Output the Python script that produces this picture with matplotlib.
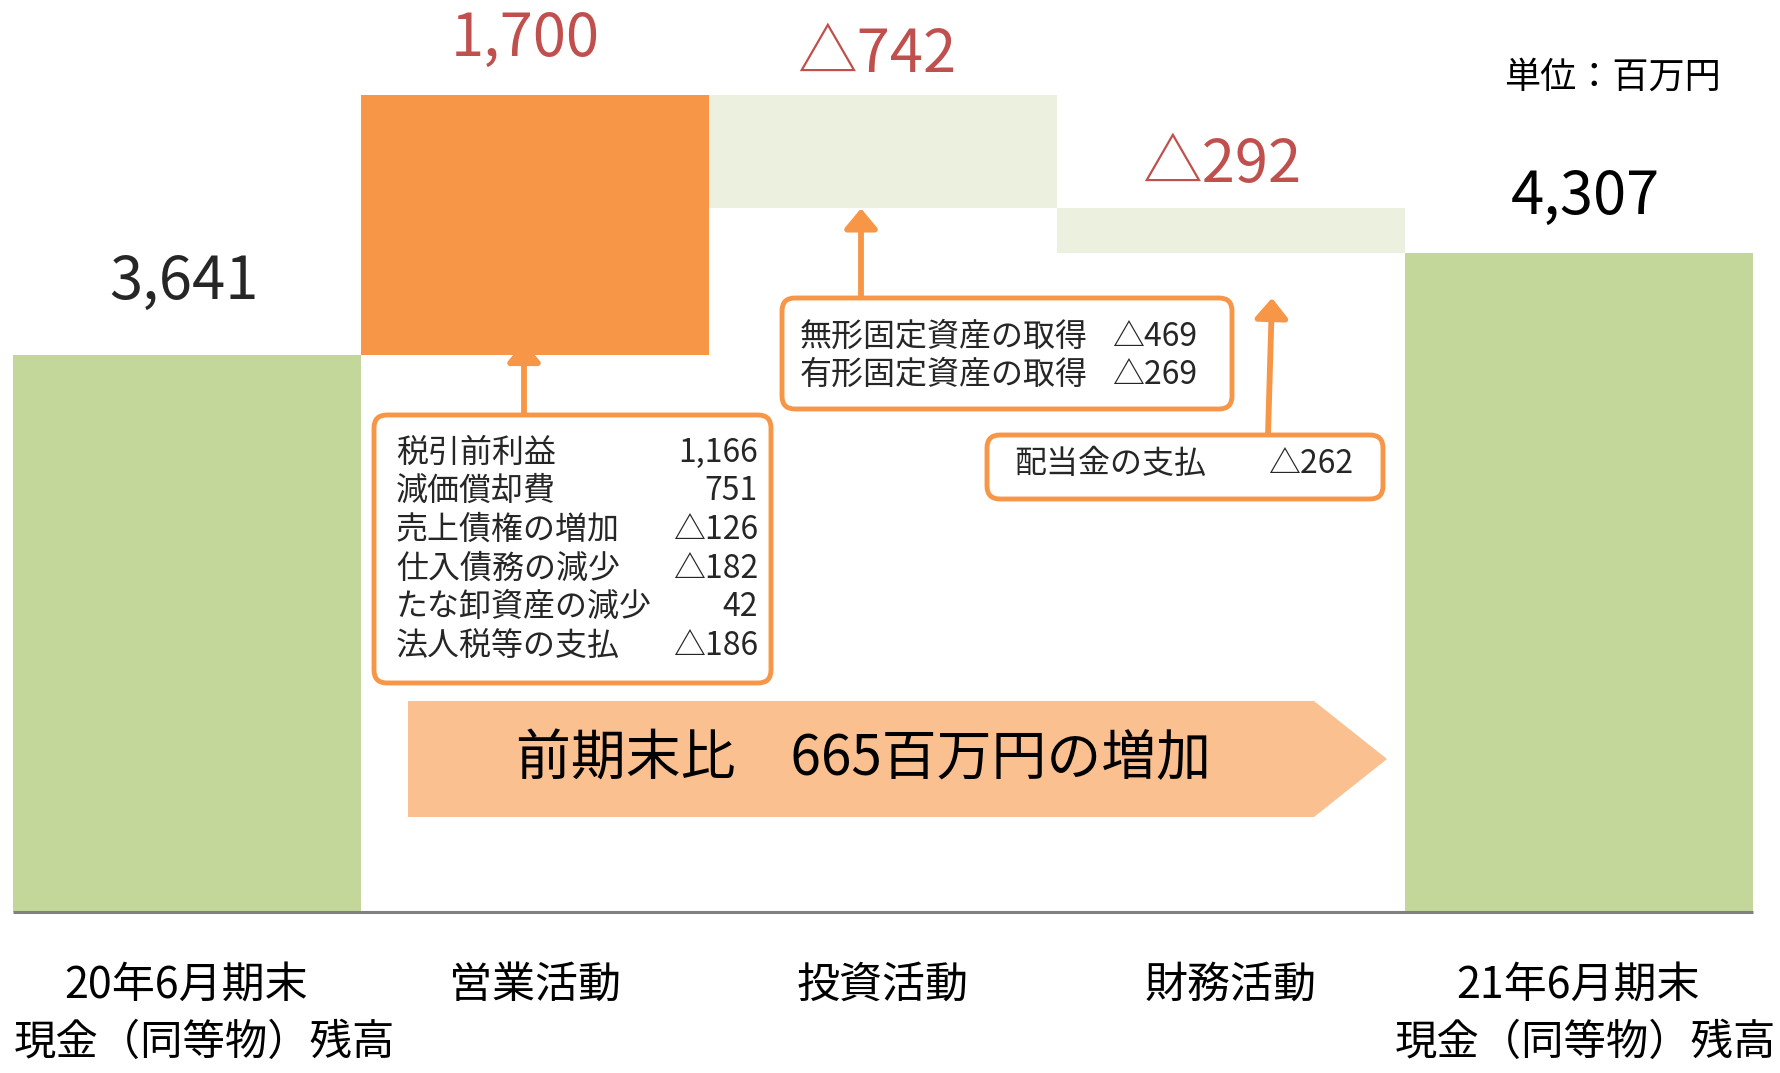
#!/usr/bin/env python3
"""
Cash flow waterfall: cash balance Jun-20 -> Jun-21 (unit: million yen)
"""

import matplotlib
matplotlib.use('Agg')
import matplotlib.pyplot as plt
from matplotlib.patches import FancyBboxPatch, Polygon
from matplotlib import transforms

plt.rcParams['font.family'] = ['Noto Sans CJK JP', 'DejaVu Sans']

# Data
categories = ["20年6月期末", "営業活動", "投資活動", "財務活動", "21年6月期末"]
subtitles = ["現金（同等物）残高", "", "", "", "現金（同等物）残高"]
start_balance = 3641
changes = [1700, -742, -292]
end_balance = 4307
value_labels = ["3,641", "1,700", "△742", "△292", "4,307"]

operating_items = ["税引前利益", "減価償却費", "売上債権の増加", "仕入債務の減少", "たな卸資産の減少", "法人税等の支払"]
operating_amounts = ["1,166", "751", "△126", "△182", "42", "△186"]
investing_items = ["無形固定資産の取得", "有形固定資産の取得"]
investing_amounts = ["△469", "△269"]
financing_items = ["配当金の支払"]
financing_amounts = ["△262"]

summary_text = "前期末比　665百万円の増加"
unit_text = "単位：百万円"

# Styles
GREEN = '#C4D79B'
ORANGE = '#F79646'
PALE = '#EBF1DE'
BAND = '#FAC090'
RED = '#C0504D'
DARK = '#262626'
bar_colors = [GREEN, ORANGE, PALE, PALE, GREEN]
label_colors = [DARK, RED, RED, RED, 'black']
label_offsets = [52, 40, 28, 31, 40]   # points above bar top
label_shifts = [-2, -7, -4, -6, 5]     # points, horizontal

W, H = 1780, 1073
YLIM = (-1052, 5961)


def fx(px):
    return px / W


def fy(py):
    return 1 - py / H


# Waterfall geometry
bottoms = [0]
heights = [start_balance]
running = start_balance
for d in changes:
    if d >= 0:
        bottoms.append(running)
        heights.append(d)
    else:
        bottoms.append(running + d)
        heights.append(-d)
    running += d
bottoms.append(0)
heights.append(end_balance)
x = list(range(len(categories)))

fig = plt.figure(figsize=(W / 100, H / 100), dpi=100)
ax = fig.add_axes([0, 0, 1, 1])
ax.set_xlim(-0.536, 4.579)
ax.set_ylim(*YLIM)
ax.axis('off')
px_per_unit = H / (YLIM[1] - YLIM[0])

ax.bar(x, heights, bottom=bottoms, width=1.0, color=bar_colors, linewidth=0, zorder=3)
ax.hlines(0, -0.5, len(categories) - 0.5, color='#808080', linewidth=2.2, zorder=4)

# Value labels above bars
for i, lab in enumerate(value_labels):
    top = bottoms[i] + heights[i]
    ax.annotate(lab, (i, top), xytext=(label_shifts[i], label_offsets[i]),
                textcoords='offset points', ha='center', va='center',
                fontsize=43, color=label_colors[i])

# Category labels
blend = transforms.blended_transform_factory(ax.transData, ax.transAxes)
for i, cat in enumerate(categories):
    ax.text(i, fy(986), cat, transform=blend, ha='center', va='center',
            fontsize=31, color='black')
ax.text(fx(14), fy(1043), subtitles[0], transform=ax.transAxes, ha='left',
        va='center', fontsize=30.5, color='black')
ax.text(fx(1776), fy(1043), subtitles[-1], transform=ax.transAxes, ha='right',
        va='center', fontsize=30.5, color='black')

ax.text(fx(1612), fy(78), unit_text, transform=ax.transAxes, ha='center',
        va='center', fontsize=26, color='black')


def draw_box(left, top, right, bottom):
    box = FancyBboxPatch((fx(left), fy(bottom)), fx(right) - fx(left), fy(top) - fy(bottom),
                         boxstyle='round,pad=0,rounding_size=%f' % fx(13),
                         mutation_aspect=W / H, transform=ax.transAxes,
                         facecolor='white', edgecolor=ORANGE, linewidth=3.5, zorder=5)
    ax.add_patch(box)


def draw_lines(items, amounts, left, right, ys):
    for name, amt, yy in zip(items, amounts, ys):
        ax.text(fx(left), fy(yy), name, transform=ax.transAxes, ha='left', va='center',
                fontsize=23, color=DARK, zorder=6)
        ax.text(fx(right), fy(yy), amt, transform=ax.transAxes, ha='right', va='center',
                fontsize=23, color=DARK, zorder=6)


arrow_style = dict(arrowstyle='-|>,head_length=1.2,head_width=1.0', color=ORANGE,
                   linewidth=4.2, shrinkA=0, shrinkB=0, mutation_scale=10)

# Operating activities box (arrow head tucked under the bar)
draw_box(374, 415, 771, 683)
draw_lines(operating_items, operating_amounts, 396, 758, [453, 491, 530, 569, 607, 646])
ax.annotate('', xy=(fx(524), bottoms[1] + 13 / px_per_unit), xycoords=('axes fraction', 'data'),
            xytext=(fx(524), fy(415)), textcoords='axes fraction',
            arrowprops=arrow_style, zorder=2)

# Investing activities box
draw_box(782, 298, 1232, 409)
draw_lines(investing_items, investing_amounts, 800, 1197, [337, 375])
ax.annotate('', xy=(fx(861), bottoms[2]), xycoords=('axes fraction', 'data'),
            xytext=(fx(861), fy(298)), textcoords='axes fraction',
            arrowprops=arrow_style, zorder=4)

# Financing activities box
draw_box(987, 435, 1383, 499)
draw_lines(financing_items, financing_amounts, 1014, 1353, [464])
ax.annotate('', xy=(fx(1272), fy(298)), xycoords='axes fraction',
            xytext=(fx(1268), fy(435)), textcoords='axes fraction',
            arrowprops=arrow_style, zorder=4)

# Summary band arrow
band = Polygon([(fx(408), fy(701)), (fx(1314), fy(701)), (fx(1387), fy(759)),
                (fx(1314), fy(817)), (fx(408), fy(817))],
               closed=True, transform=ax.transAxes, facecolor=BAND, edgecolor='none', zorder=5)
ax.add_patch(band)
ax.text(fx(863), fy(759), summary_text, transform=ax.transAxes, ha='center', va='center',
        fontsize=39.5, color='black', zorder=6)

fig.savefig('out.png', dpi=100)
plt.close(fig)
